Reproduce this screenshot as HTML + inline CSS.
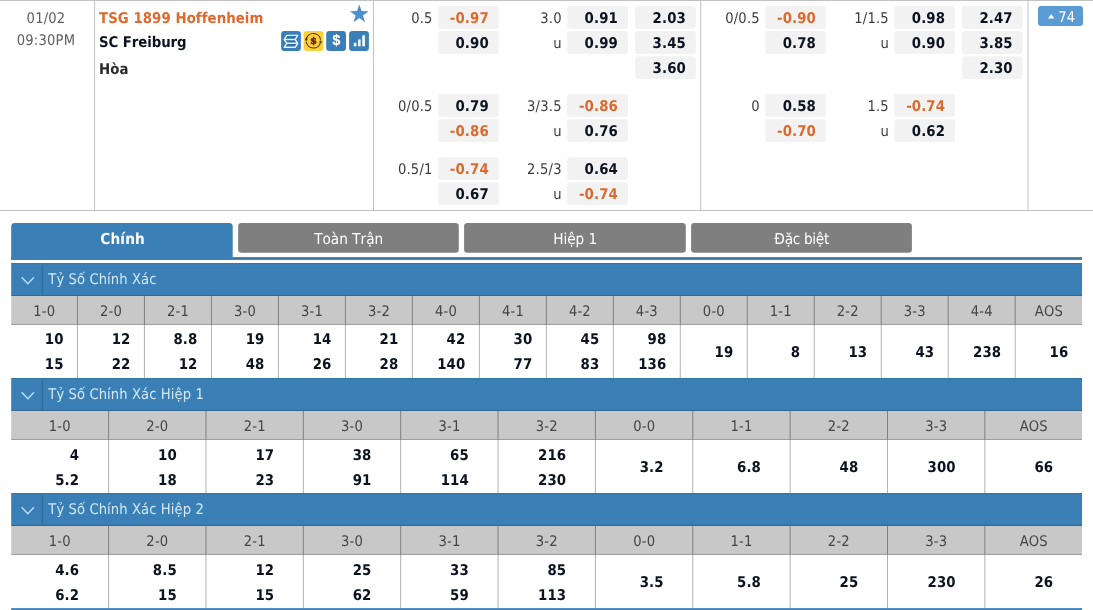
<!DOCTYPE html>
<html lang="vi"><head><meta charset="utf-8"><title>Odds</title><style>
html,body{margin:0;padding:0}
body{width:1093px;height:610px;overflow:hidden;position:relative;background:#fff;font-family:"DejaVu Sans Condensed","DejaVu Sans","Liberation Sans",sans-serif;font-stretch:condensed}
div,svg.ab{position:absolute}
svg{display:block}
.t{white-space:nowrap;font-kerning:none;text-rendering:geometricPrecision;line-height:20px;height:20px}
.r{font-weight:400;font-size:14.6px;letter-spacing:.2px}
.b{font-weight:700;font-size:14.8px;letter-spacing:.12px}
.ln{fill:#c2c2c2}
.lv{fill:#c2c2c2}
.dt{color:#606060}
.or{color:#dc6a2c}
.bk{color:#0c1220}
.hk{color:#2a2a2a}
.lb{color:#3c3c3c}
.wh{color:#fff}
.ob{fill:#f2f2f2}
.mb{fill:#5a9bd3}
.bl2{fill:#43789e}
.tabG{fill:#7f7f7f}
.sh{fill:#3a7fb5}
.shb{fill:#255c88}
.chb{fill:#9c9c9c}
.sht{fill:#34739f}
.shd{fill:#2d6795}
.st{color:#d2e9fa}
.ch{fill:#c8c8c8}
.cd1{fill:#808080}
.cd2{fill:#b2b2b2}
.hd{color:#454545}
.tabt{font-size:15.2px}</style></head><body>
<svg class="ab" style="left:0;top:0" width="1093" height="610" viewBox="0 0 1093 610">
<rect class="ln" x="0.00" y="0.00" width="1093.00" height="1.00"/>
<rect class="ln" x="0.00" y="210.00" width="1093.00" height="1.00"/>
<rect class="lv" x="94.10" y="0.00" width="1.00" height="210.50"/>
<rect class="lv" x="373.00" y="0.00" width="1.00" height="210.50"/>
<rect class="lv" x="700.20" y="0.00" width="1.00" height="210.50"/>
<rect class="lv" x="1027.50" y="0.00" width="1.00" height="210.50"/>
<rect class="ob" x="438.10" y="6.00" width="60.60" height="22.80" rx="2.8"/>
<rect class="ob" x="438.10" y="31.10" width="60.60" height="22.80" rx="2.8"/>
<rect class="ob" x="567.20" y="6.00" width="60.60" height="22.80" rx="2.8"/>
<rect class="ob" x="567.20" y="31.10" width="60.60" height="22.80" rx="2.8"/>
<rect class="ob" x="635.20" y="6.00" width="60.60" height="22.80" rx="2.8"/>
<rect class="ob" x="635.20" y="31.10" width="60.60" height="22.80" rx="2.8"/>
<rect class="ob" x="635.20" y="56.20" width="60.60" height="22.80" rx="2.8"/>
<rect class="ob" x="438.10" y="94.10" width="60.60" height="22.80" rx="2.8"/>
<rect class="ob" x="438.10" y="119.20" width="60.60" height="22.80" rx="2.8"/>
<rect class="ob" x="567.20" y="94.10" width="60.60" height="22.80" rx="2.8"/>
<rect class="ob" x="567.20" y="119.20" width="60.60" height="22.80" rx="2.8"/>
<rect class="ob" x="438.10" y="157.20" width="60.60" height="22.80" rx="2.8"/>
<rect class="ob" x="438.10" y="182.30" width="60.60" height="22.80" rx="2.8"/>
<rect class="ob" x="567.20" y="157.20" width="60.60" height="22.80" rx="2.8"/>
<rect class="ob" x="567.20" y="182.30" width="60.60" height="22.80" rx="2.8"/>
<rect class="ob" x="765.30" y="6.00" width="60.60" height="22.80" rx="2.8"/>
<rect class="ob" x="765.30" y="31.10" width="60.60" height="22.80" rx="2.8"/>
<rect class="ob" x="894.40" y="6.00" width="60.60" height="22.80" rx="2.8"/>
<rect class="ob" x="894.40" y="31.10" width="60.60" height="22.80" rx="2.8"/>
<rect class="ob" x="962.00" y="6.00" width="60.60" height="22.80" rx="2.8"/>
<rect class="ob" x="962.00" y="31.10" width="60.60" height="22.80" rx="2.8"/>
<rect class="ob" x="962.00" y="56.20" width="60.60" height="22.80" rx="2.8"/>
<rect class="ob" x="765.30" y="94.10" width="60.60" height="22.80" rx="2.8"/>
<rect class="ob" x="765.30" y="119.20" width="60.60" height="22.80" rx="2.8"/>
<rect class="ob" x="894.40" y="94.10" width="60.60" height="22.80" rx="2.8"/>
<rect class="ob" x="894.40" y="119.20" width="60.60" height="22.80" rx="2.8"/>
<rect class="mb" x="1038.00" y="6.00" width="45.00" height="20.00" rx="3"/>
<path d="M359.30 4.40L361.56 11.09L368.62 11.17L362.96 15.39L365.06 22.13L359.30 18.05L353.54 22.13L355.64 15.39L349.98 11.17L357.04 11.09z" fill="#4b8fd0"/>
<rect x="281.1" y="31.1" width="19.8" height="19.8" rx="3.2" fill="#3a7fb5"/>
<rect x="303.6" y="31.1" width="19.8" height="19.8" rx="3.2" fill="#fbd03b"/>
<rect x="326.2" y="31.1" width="19.8" height="19.8" rx="3.2" fill="#3a7fb5"/>
<rect x="349.1" y="31.1" width="19.8" height="19.8" rx="3.2" fill="#3a7fb5"/>
<path d="M286.8 35.4H297.70000000000005L295.20000000000005 39.5L297.70000000000005 43.3L295.20000000000005 47.3H284.20000000000005L286.8 43.3L284.20000000000005 39.5z" fill="#2f70a8" stroke="#e4f5ff" stroke-width="1.4" stroke-linejoin="round"/>
<path d="M284.20000000000005 39.5H295.20000000000005M286.8 43.3H297.70000000000005" fill="none" stroke="#e4f5ff" stroke-width="1.4"/>
<path d="M306.31 39.24A7.25 7.25 0 0 1 320.58 39.74M320.49 42.26A7.25 7.25 0 0 1 306.22 41.76" fill="none" stroke="#4a3206" stroke-width="1.15"/>
<path d="M305.81 41.23L304.81 38.61L307.92 39.38zM320.99 40.27L321.99 42.89L318.88 42.12z" fill="#4a3206"/>
<text x="313.4" y="44.1" text-anchor="middle" font-family="DejaVu Sans,sans-serif" font-stretch="normal" font-weight="700" font-size="9.4" fill="#6a2a06" stroke="#6a2a06" stroke-width="0.55">$</text>
<text x="336.4" y="45.2" text-anchor="middle" font-family="Liberation Sans,sans-serif" font-weight="700" font-size="14" fill="#fff" stroke="#fff" stroke-width="0.25">$</text>
<rect x="353.8" y="42.8" width="2.6" height="3.5" fill="#fff"/><rect x="358" y="39.4" width="2.7" height="6.9" fill="#e6f0f7"/><rect x="362.3" y="35.3" width="2.6" height="11" fill="#fff"/>
<rect class="bl2" x="11.20" y="257.10" width="1070.80" height="2.80"/>
<path class="sh" d="M11.2 260V226.6a3.5 3.5 0 0 1 3.5-3.5H229.2a3.5 3.5 0 0 1 3.5 3.5V260z"/>
<rect class="tabG" x="238.15" y="223.10" width="220.65" height="29.70" rx="3.3"/>
<rect class="tabG" x="464.10" y="223.10" width="221.70" height="29.70" rx="3.3"/>
<rect class="tabG" x="691.10" y="223.10" width="220.80" height="29.70" rx="3.3"/>
<rect class="sh" x="11.20" y="263.15" width="1070.80" height="31.90"/>
<rect class="shb" x="11.20" y="294.95" width="1070.80" height="1.00"/>
<rect class="shd" x="41.80" y="265.15" width="1.00" height="30.80"/>
<path d="M21.7 277.25L27.85 283.65L34 277.25" fill="none" stroke="#b9defa" stroke-width="1.45"/>
<rect class="sht" x="11.20" y="263.15" width="1070.80" height="0.90"/>
<rect class="ch" x="11.20" y="295.95" width="1070.80" height="28.10"/>
<rect class="chb" x="11.20" y="323.95" width="1070.80" height="1.00"/>
<rect class="cd1" x="76.96" y="295.95" width="1.00" height="29.00"/>
<rect class="cd2" x="76.96" y="324.95" width="1.00" height="53.20"/>
<rect class="cd1" x="143.94" y="295.95" width="1.00" height="29.00"/>
<rect class="cd2" x="143.94" y="324.95" width="1.00" height="53.20"/>
<rect class="cd1" x="210.92" y="295.95" width="1.00" height="29.00"/>
<rect class="cd2" x="210.92" y="324.95" width="1.00" height="53.20"/>
<rect class="cd1" x="277.90" y="295.95" width="1.00" height="29.00"/>
<rect class="cd2" x="277.90" y="324.95" width="1.00" height="53.20"/>
<rect class="cd1" x="344.88" y="295.95" width="1.00" height="29.00"/>
<rect class="cd2" x="344.88" y="324.95" width="1.00" height="53.20"/>
<rect class="cd1" x="411.86" y="295.95" width="1.00" height="29.00"/>
<rect class="cd2" x="411.86" y="324.95" width="1.00" height="53.20"/>
<rect class="cd1" x="478.84" y="295.95" width="1.00" height="29.00"/>
<rect class="cd2" x="478.84" y="324.95" width="1.00" height="53.20"/>
<rect class="cd1" x="545.82" y="295.95" width="1.00" height="29.00"/>
<rect class="cd2" x="545.82" y="324.95" width="1.00" height="53.20"/>
<rect class="cd1" x="612.80" y="295.95" width="1.00" height="29.00"/>
<rect class="cd2" x="612.80" y="324.95" width="1.00" height="53.20"/>
<rect class="cd1" x="679.78" y="295.95" width="1.00" height="29.00"/>
<rect class="cd2" x="679.78" y="324.95" width="1.00" height="53.20"/>
<rect class="cd1" x="746.76" y="295.95" width="1.00" height="29.00"/>
<rect class="cd2" x="746.76" y="324.95" width="1.00" height="53.20"/>
<rect class="cd1" x="813.74" y="295.95" width="1.00" height="29.00"/>
<rect class="cd2" x="813.74" y="324.95" width="1.00" height="53.20"/>
<rect class="cd1" x="880.72" y="295.95" width="1.00" height="29.00"/>
<rect class="cd2" x="880.72" y="324.95" width="1.00" height="53.20"/>
<rect class="cd1" x="947.70" y="295.95" width="1.00" height="29.00"/>
<rect class="cd2" x="947.70" y="324.95" width="1.00" height="53.20"/>
<rect class="cd1" x="1014.68" y="295.95" width="1.00" height="29.00"/>
<rect class="cd2" x="1014.68" y="324.95" width="1.00" height="53.20"/>
<rect class="sh" x="11.20" y="378.15" width="1070.80" height="31.90"/>
<rect class="shb" x="11.20" y="409.95" width="1070.80" height="1.00"/>
<rect class="shd" x="41.80" y="380.15" width="1.00" height="30.80"/>
<path d="M21.7 392.25L27.85 398.65L34 392.25" fill="none" stroke="#b9defa" stroke-width="1.45"/>
<rect class="sht" x="11.20" y="378.15" width="1070.80" height="0.90"/>
<rect class="ch" x="11.20" y="410.95" width="1070.80" height="28.10"/>
<rect class="chb" x="11.20" y="438.95" width="1070.80" height="1.00"/>
<rect class="cd1" x="108.10" y="410.95" width="1.00" height="29.00"/>
<rect class="cd2" x="108.10" y="439.95" width="1.00" height="53.20"/>
<rect class="cd1" x="205.46" y="410.95" width="1.00" height="29.00"/>
<rect class="cd2" x="205.46" y="439.95" width="1.00" height="53.20"/>
<rect class="cd1" x="302.82" y="410.95" width="1.00" height="29.00"/>
<rect class="cd2" x="302.82" y="439.95" width="1.00" height="53.20"/>
<rect class="cd1" x="400.18" y="410.95" width="1.00" height="29.00"/>
<rect class="cd2" x="400.18" y="439.95" width="1.00" height="53.20"/>
<rect class="cd1" x="497.54" y="410.95" width="1.00" height="29.00"/>
<rect class="cd2" x="497.54" y="439.95" width="1.00" height="53.20"/>
<rect class="cd1" x="594.90" y="410.95" width="1.00" height="29.00"/>
<rect class="cd2" x="594.90" y="439.95" width="1.00" height="53.20"/>
<rect class="cd1" x="692.26" y="410.95" width="1.00" height="29.00"/>
<rect class="cd2" x="692.26" y="439.95" width="1.00" height="53.20"/>
<rect class="cd1" x="789.62" y="410.95" width="1.00" height="29.00"/>
<rect class="cd2" x="789.62" y="439.95" width="1.00" height="53.20"/>
<rect class="cd1" x="886.98" y="410.95" width="1.00" height="29.00"/>
<rect class="cd2" x="886.98" y="439.95" width="1.00" height="53.20"/>
<rect class="cd1" x="984.34" y="410.95" width="1.00" height="29.00"/>
<rect class="cd2" x="984.34" y="439.95" width="1.00" height="53.20"/>
<rect class="sh" x="11.20" y="493.15" width="1070.80" height="31.90"/>
<rect class="shb" x="11.20" y="524.95" width="1070.80" height="1.00"/>
<rect class="shd" x="41.80" y="495.15" width="1.00" height="30.80"/>
<path d="M21.7 507.25L27.85 513.65L34 507.25" fill="none" stroke="#b9defa" stroke-width="1.45"/>
<rect class="sht" x="11.20" y="493.15" width="1070.80" height="0.90"/>
<rect class="ch" x="11.20" y="525.95" width="1070.80" height="28.10"/>
<rect class="chb" x="11.20" y="553.95" width="1070.80" height="1.00"/>
<rect class="cd1" x="108.10" y="525.95" width="1.00" height="29.00"/>
<rect class="cd2" x="108.10" y="554.95" width="1.00" height="53.20"/>
<rect class="cd1" x="205.46" y="525.95" width="1.00" height="29.00"/>
<rect class="cd2" x="205.46" y="554.95" width="1.00" height="53.20"/>
<rect class="cd1" x="302.82" y="525.95" width="1.00" height="29.00"/>
<rect class="cd2" x="302.82" y="554.95" width="1.00" height="53.20"/>
<rect class="cd1" x="400.18" y="525.95" width="1.00" height="29.00"/>
<rect class="cd2" x="400.18" y="554.95" width="1.00" height="53.20"/>
<rect class="cd1" x="497.54" y="525.95" width="1.00" height="29.00"/>
<rect class="cd2" x="497.54" y="554.95" width="1.00" height="53.20"/>
<rect class="cd1" x="594.90" y="525.95" width="1.00" height="29.00"/>
<rect class="cd2" x="594.90" y="554.95" width="1.00" height="53.20"/>
<rect class="cd1" x="692.26" y="525.95" width="1.00" height="29.00"/>
<rect class="cd2" x="692.26" y="554.95" width="1.00" height="53.20"/>
<rect class="cd1" x="789.62" y="525.95" width="1.00" height="29.00"/>
<rect class="cd2" x="789.62" y="554.95" width="1.00" height="53.20"/>
<rect class="cd1" x="886.98" y="525.95" width="1.00" height="29.00"/>
<rect class="cd2" x="886.98" y="554.95" width="1.00" height="53.20"/>
<rect class="cd1" x="984.34" y="525.95" width="1.00" height="29.00"/>
<rect class="cd2" x="984.34" y="554.95" width="1.00" height="53.20"/>
<rect class="sh" x="11.20" y="608.15" width="1070.80" height="3.00"/>
</svg>
<div class="t r dt" style="top:9.00px;left:-104.00px;width:300px;text-align:center;">01/02</div>
<div class="t r dt" style="top:31.00px;left:-104.00px;width:300px;text-align:center;">09:30PM</div>
<div class="t b or" style="top:9.00px;left:99.00px;letter-spacing:.06px;">TSG 1899 Hoffenheim</div>
<div class="t b bk" style="top:33.00px;left:99.00px;letter-spacing:-.08px;">SC Freiburg</div>
<div class="t b hk" style="top:60.00px;left:99.00px;">Hòa</div>
<div class="t b or" style="top:9.00px;right:604.20px;">-0.97</div>
<div class="t r lb" style="top:9.00px;right:660.40px;">0.5</div>
<div class="t b bk" style="top:34.00px;right:604.20px;">0.90</div>
<div class="t b bk" style="top:9.00px;right:475.10px;">0.91</div>
<div class="t r lb" style="top:9.00px;right:531.30px;">3.0</div>
<div class="t b bk" style="top:34.00px;right:475.10px;">0.99</div>
<div class="t r lb" style="top:34.00px;right:531.30px;">u</div>
<div class="t b bk" style="top:9.00px;right:407.10px;">2.03</div>
<div class="t b bk" style="top:34.00px;right:407.10px;">3.45</div>
<div class="t b bk" style="top:59.00px;right:407.10px;">3.60</div>
<div class="t b bk" style="top:97.00px;right:604.20px;">0.79</div>
<div class="t r lb" style="top:97.00px;right:660.40px;">0/0.5</div>
<div class="t b or" style="top:122.00px;right:604.20px;">-0.86</div>
<div class="t b or" style="top:97.00px;right:475.10px;">-0.86</div>
<div class="t r lb" style="top:97.00px;right:531.30px;">3/3.5</div>
<div class="t b bk" style="top:122.00px;right:475.10px;">0.76</div>
<div class="t r lb" style="top:122.00px;right:531.30px;">u</div>
<div class="t b or" style="top:160.00px;right:604.20px;">-0.74</div>
<div class="t r lb" style="top:160.00px;right:660.40px;">0.5/1</div>
<div class="t b bk" style="top:185.00px;right:604.20px;">0.67</div>
<div class="t b bk" style="top:160.00px;right:475.10px;">0.64</div>
<div class="t r lb" style="top:160.00px;right:531.30px;">2.5/3</div>
<div class="t b or" style="top:185.00px;right:475.10px;">-0.74</div>
<div class="t r lb" style="top:185.00px;right:531.30px;">u</div>
<div class="t b or" style="top:9.00px;right:277.00px;">-0.90</div>
<div class="t r lb" style="top:9.00px;right:333.20px;">0/0.5</div>
<div class="t b bk" style="top:34.00px;right:277.00px;">0.78</div>
<div class="t b bk" style="top:9.00px;right:147.90px;">0.98</div>
<div class="t r lb" style="top:9.00px;right:204.10px;">1/1.5</div>
<div class="t b bk" style="top:34.00px;right:147.90px;">0.90</div>
<div class="t r lb" style="top:34.00px;right:204.10px;">u</div>
<div class="t b bk" style="top:9.00px;right:80.30px;">2.47</div>
<div class="t b bk" style="top:34.00px;right:80.30px;">3.85</div>
<div class="t b bk" style="top:59.00px;right:80.30px;">2.30</div>
<div class="t b bk" style="top:97.00px;right:277.00px;">0.58</div>
<div class="t r lb" style="top:97.00px;right:333.20px;">0</div>
<div class="t b or" style="top:122.00px;right:277.00px;">-0.70</div>
<div class="t b or" style="top:97.00px;right:147.90px;">-0.74</div>
<div class="t r lb" style="top:97.00px;right:204.10px;">1.5</div>
<div class="t b bk" style="top:122.00px;right:147.90px;">0.62</div>
<div class="t r lb" style="top:122.00px;right:204.10px;">u</div>
<svg class="ab" style="left:1047.8px;top:14.2px" width="6.4" height="4.6" viewBox="0 0 7 5"><path d="M3.5 0L7 5H0z" fill="#fff"/></svg>
<div class="t r wh" style="top:8.00px;left:1058.30px;">74</div>
<div class="t r wh" style="top:229.00px;font-size:15.2px;left:198.68px;width:300px;text-align:center;letter-spacing:0px;">Toàn Trận</div>
<div class="t r wh" style="top:229.00px;font-size:15.2px;left:425.15px;width:300px;text-align:center;letter-spacing:-0.05px;">Hiệp 1</div>
<div class="t r wh" style="top:229.00px;font-size:15.2px;left:651.70px;width:300px;text-align:center;letter-spacing:-0.3px;">Đặc biệt</div>
<div class="t b wh" style="top:229.00px;font-size:15.2px;left:-27.40px;width:300px;text-align:center;">Chính</div>
<div class="t r st" style="top:270.00px;left:48.30px;letter-spacing:.1px;">Tỷ Số Chính Xác</div>
<div class="t r hd" style="top:302.00px;left:-105.82px;width:300px;text-align:center;">1-0</div>
<div class="t b bk" style="top:330.00px;right:1029.42px;">10</div>
<div class="t b bk" style="top:355.00px;right:1029.42px;">15</div>
<div class="t r hd" style="top:302.00px;left:-38.95px;width:300px;text-align:center;">2-0</div>
<div class="t b bk" style="top:330.00px;right:962.55px;">12</div>
<div class="t b bk" style="top:355.00px;right:962.55px;">22</div>
<div class="t r hd" style="top:302.00px;left:28.03px;width:300px;text-align:center;">2-1</div>
<div class="t b bk" style="top:330.00px;right:895.57px;">8.8</div>
<div class="t b bk" style="top:355.00px;right:895.57px;">12</div>
<div class="t r hd" style="top:302.00px;left:95.01px;width:300px;text-align:center;">3-0</div>
<div class="t b bk" style="top:330.00px;right:828.59px;">19</div>
<div class="t b bk" style="top:355.00px;right:828.59px;">48</div>
<div class="t r hd" style="top:302.00px;left:161.99px;width:300px;text-align:center;">3-1</div>
<div class="t b bk" style="top:330.00px;right:761.61px;">14</div>
<div class="t b bk" style="top:355.00px;right:761.61px;">26</div>
<div class="t r hd" style="top:302.00px;left:228.97px;width:300px;text-align:center;">3-2</div>
<div class="t b bk" style="top:330.00px;right:694.63px;">21</div>
<div class="t b bk" style="top:355.00px;right:694.63px;">28</div>
<div class="t r hd" style="top:302.00px;left:295.95px;width:300px;text-align:center;">4-0</div>
<div class="t b bk" style="top:330.00px;right:627.65px;">42</div>
<div class="t b bk" style="top:355.00px;right:627.65px;">140</div>
<div class="t r hd" style="top:302.00px;left:362.93px;width:300px;text-align:center;">4-1</div>
<div class="t b bk" style="top:330.00px;right:560.67px;">30</div>
<div class="t b bk" style="top:355.00px;right:560.67px;">77</div>
<div class="t r hd" style="top:302.00px;left:429.91px;width:300px;text-align:center;">4-2</div>
<div class="t b bk" style="top:330.00px;right:493.69px;">45</div>
<div class="t b bk" style="top:355.00px;right:493.69px;">83</div>
<div class="t r hd" style="top:302.00px;left:496.89px;width:300px;text-align:center;">4-3</div>
<div class="t b bk" style="top:330.00px;right:426.71px;">98</div>
<div class="t b bk" style="top:355.00px;right:426.71px;">136</div>
<div class="t r hd" style="top:302.00px;left:563.87px;width:300px;text-align:center;">0-0</div>
<div class="t b bk" style="top:343.00px;right:359.73px;">19</div>
<div class="t r hd" style="top:302.00px;left:630.85px;width:300px;text-align:center;">1-1</div>
<div class="t b bk" style="top:343.00px;right:292.75px;">8</div>
<div class="t r hd" style="top:302.00px;left:697.83px;width:300px;text-align:center;">2-2</div>
<div class="t b bk" style="top:343.00px;right:225.77px;">13</div>
<div class="t r hd" style="top:302.00px;left:764.81px;width:300px;text-align:center;">3-3</div>
<div class="t b bk" style="top:343.00px;right:158.79px;">43</div>
<div class="t r hd" style="top:302.00px;left:831.79px;width:300px;text-align:center;">4-4</div>
<div class="t b bk" style="top:343.00px;right:91.81px;">238</div>
<div class="t r hd" style="top:302.00px;left:898.94px;width:300px;text-align:center;">AOS</div>
<div class="t b bk" style="top:343.00px;right:24.66px;">16</div>
<div class="t r st" style="top:385.00px;left:48.30px;letter-spacing:.1px;">Tỷ Số Chính Xác Hiệp 1</div>
<div class="t r hd" style="top:417.00px;left:-90.25px;width:300px;text-align:center;">1-0</div>
<div class="t b bk" style="top:446.00px;right:1013.85px;">4</div>
<div class="t b bk" style="top:471.00px;right:1013.85px;">5.2</div>
<div class="t r hd" style="top:417.00px;left:7.38px;width:300px;text-align:center;">2-0</div>
<div class="t b bk" style="top:446.00px;right:916.22px;">10</div>
<div class="t b bk" style="top:471.00px;right:916.22px;">18</div>
<div class="t r hd" style="top:417.00px;left:104.74px;width:300px;text-align:center;">2-1</div>
<div class="t b bk" style="top:446.00px;right:818.86px;">17</div>
<div class="t b bk" style="top:471.00px;right:818.86px;">23</div>
<div class="t r hd" style="top:417.00px;left:202.10px;width:300px;text-align:center;">3-0</div>
<div class="t b bk" style="top:446.00px;right:721.50px;">38</div>
<div class="t b bk" style="top:471.00px;right:721.50px;">91</div>
<div class="t r hd" style="top:417.00px;left:299.46px;width:300px;text-align:center;">3-1</div>
<div class="t b bk" style="top:446.00px;right:624.14px;">65</div>
<div class="t b bk" style="top:471.00px;right:624.14px;">114</div>
<div class="t r hd" style="top:417.00px;left:396.82px;width:300px;text-align:center;">3-2</div>
<div class="t b bk" style="top:446.00px;right:526.78px;">216</div>
<div class="t b bk" style="top:471.00px;right:526.78px;">230</div>
<div class="t r hd" style="top:417.00px;left:494.18px;width:300px;text-align:center;">0-0</div>
<div class="t b bk" style="top:458.00px;right:429.42px;">3.2</div>
<div class="t r hd" style="top:417.00px;left:591.54px;width:300px;text-align:center;">1-1</div>
<div class="t b bk" style="top:458.00px;right:332.06px;">6.8</div>
<div class="t r hd" style="top:417.00px;left:688.90px;width:300px;text-align:center;">2-2</div>
<div class="t b bk" style="top:458.00px;right:234.70px;">48</div>
<div class="t r hd" style="top:417.00px;left:786.26px;width:300px;text-align:center;">3-3</div>
<div class="t b bk" style="top:458.00px;right:137.34px;">300</div>
<div class="t r hd" style="top:417.00px;left:883.77px;width:300px;text-align:center;">AOS</div>
<div class="t b bk" style="top:458.00px;right:39.83px;">66</div>
<div class="t r st" style="top:500.00px;left:48.30px;letter-spacing:.1px;">Tỷ Số Chính Xác Hiệp 2</div>
<div class="t r hd" style="top:532.00px;left:-90.25px;width:300px;text-align:center;">1-0</div>
<div class="t b bk" style="top:561.00px;right:1013.85px;">4.6</div>
<div class="t b bk" style="top:586.00px;right:1013.85px;">6.2</div>
<div class="t r hd" style="top:532.00px;left:7.38px;width:300px;text-align:center;">2-0</div>
<div class="t b bk" style="top:561.00px;right:916.22px;">8.5</div>
<div class="t b bk" style="top:586.00px;right:916.22px;">15</div>
<div class="t r hd" style="top:532.00px;left:104.74px;width:300px;text-align:center;">2-1</div>
<div class="t b bk" style="top:561.00px;right:818.86px;">12</div>
<div class="t b bk" style="top:586.00px;right:818.86px;">15</div>
<div class="t r hd" style="top:532.00px;left:202.10px;width:300px;text-align:center;">3-0</div>
<div class="t b bk" style="top:561.00px;right:721.50px;">25</div>
<div class="t b bk" style="top:586.00px;right:721.50px;">62</div>
<div class="t r hd" style="top:532.00px;left:299.46px;width:300px;text-align:center;">3-1</div>
<div class="t b bk" style="top:561.00px;right:624.14px;">33</div>
<div class="t b bk" style="top:586.00px;right:624.14px;">59</div>
<div class="t r hd" style="top:532.00px;left:396.82px;width:300px;text-align:center;">3-2</div>
<div class="t b bk" style="top:561.00px;right:526.78px;">85</div>
<div class="t b bk" style="top:586.00px;right:526.78px;">113</div>
<div class="t r hd" style="top:532.00px;left:494.18px;width:300px;text-align:center;">0-0</div>
<div class="t b bk" style="top:573.00px;right:429.42px;">3.5</div>
<div class="t r hd" style="top:532.00px;left:591.54px;width:300px;text-align:center;">1-1</div>
<div class="t b bk" style="top:573.00px;right:332.06px;">5.8</div>
<div class="t r hd" style="top:532.00px;left:688.90px;width:300px;text-align:center;">2-2</div>
<div class="t b bk" style="top:573.00px;right:234.70px;">25</div>
<div class="t r hd" style="top:532.00px;left:786.26px;width:300px;text-align:center;">3-3</div>
<div class="t b bk" style="top:573.00px;right:137.34px;">230</div>
<div class="t r hd" style="top:532.00px;left:883.77px;width:300px;text-align:center;">AOS</div>
<div class="t b bk" style="top:573.00px;right:39.83px;">26</div>
</body></html>
